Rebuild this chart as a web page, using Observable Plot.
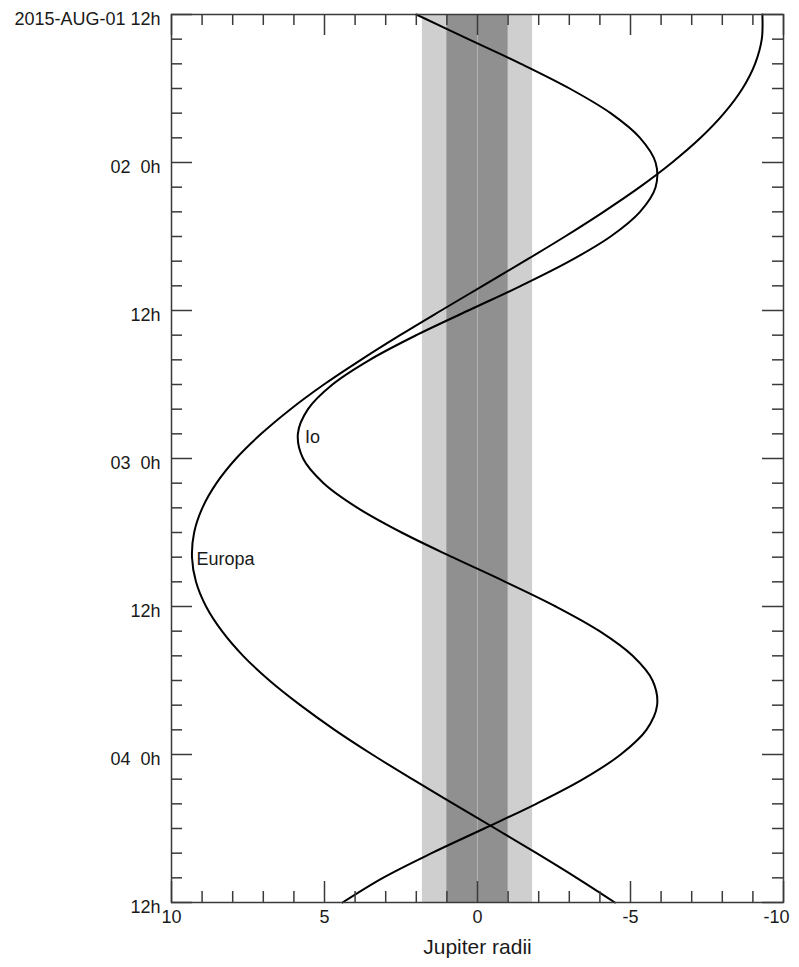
<!DOCTYPE html>
<html><head><meta charset="utf-8">
<script src="https://cdn.jsdelivr.net/npm/d3@7"></script>
<script src="https://cdn.jsdelivr.net/npm/@observablehq/plot@0.6"></script>
<style>
body{margin:0;background:#fff;}
svg text{white-space:pre;}
</style></head><body><div id="chart"></div>
<script>
// hours after 2015-AUG-01 12h
const hours = [0,2,4,6,8,10,12,14,16,18,20,22,24,26,28,30,32,34,36,38,40,42,44,46,48,50,52,54,56,58,60,62,64,66,68,70,72];
// position in Jupiter radii (positive = left / east)
const io = [2.00,0.30,-1.42,-3.01,-4.35,-5.31,-5.82,-5.82,-5.31,-4.35,-3.01,-1.42,0.30,2.00,3.52,4.74,5.54,5.87,5.70,5.03,3.92,2.48,0.82,-0.91,-2.56,-3.99,-5.07,-5.72,-5.87,-5.52,-4.68,-3.45,-1.92,-0.22,1.50,3.09,4.41];
const europa = [-9.31,-9.29,-9.07,-8.66,-8.06,-7.29,-6.36,-5.30,-4.12,-2.86,-1.53,-0.17,1.19,2.53,3.81,5.02,6.11,7.07,7.89,8.53,8.99,9.26,9.33,9.20,8.87,8.35,7.66,6.80,5.79,4.67,3.44,2.13,0.78,-0.58,-1.93,-3.24,-4.49];

const yTickHours = [0,12,24,36,48,60,72];
const yTickLabels = ["2015-AUG-01 12h","02  0h","12h","03  0h","12h","04  0h","12h"];
const yMinorHours = [2,4,6,8,10,14,16,18,20,22,26,28,30,32,34,38,40,42,44,46,50,52,54,56,58,62,64,66,68,70];
const xTickValues = [10,5,0,-5];
const xTickLabels = ["10","5","0","-5"];
const xEndValue = [-10];
const xEndLabel = ["-10"];
const xMinorValues = [9,8,7,6,4,3,2,1,-1,-2,-3,-4,-6,-7,-8,-9];
const shadowBand = [{x1:-1.8, x2:1.8}];
const diskBand = [{x1:-1, x2:1}];
const moonLabels = [{name:"Io", x:5.64, t:34.3},{name:"Europa", x:9.18, t:44.2}];

const W=799, H=967, mL=171, mR=16, mT=14, mB=65;
const innerW = W-mL-mR, innerH = H-mT-mB;
const series = hours.flatMap((t,i)=>[{moon:"Io",t,x:io[i]},{moon:"Europa",t,x:europa[i]}]);
const axisColor = "#3a3a3a";
const allMajorX = xTickValues.concat(xEndValue);

const chart = Plot.plot({
  width: W, height: H,
  marginLeft: mL, marginRight: mR, marginTop: mT, marginBottom: mB,
  style: {fontFamily: "'Liberation Sans', Arial, Helvetica, sans-serif", background: "#fff", color: "#1a1a1a"},
  x: {domain: [10,-10], axis: null},
  y: {domain: [0,72], reverse: true, axis: null},
  marks: [
    Plot.rectX(shadowBand, {x1:"x1", x2:"x2", fill:"#cfcfcf"}),
    Plot.rectX(diskBand, {x1:"x1", x2:"x2", fill:"#909090"}),
    Plot.ruleX([0], {stroke:"#b2b2b2", strokeWidth:1}),
    Plot.line(series, {x:"x", y:"t", z:"moon", curve:"catmull-rom", stroke:"#000", strokeWidth:2}),
    Plot.tickY(yMinorHours, {y:d=>d, insetRight: innerW-11, stroke:axisColor, strokeWidth:1.5}),
    Plot.tickY(yMinorHours, {y:d=>d, insetLeft: innerW-11, stroke:axisColor, strokeWidth:1.5}),
    Plot.tickY(yTickHours, {y:d=>d, insetRight: innerW-21, stroke:axisColor, strokeWidth:1.5}),
    Plot.tickY(yTickHours, {y:d=>d, insetLeft: innerW-21, stroke:axisColor, strokeWidth:1.5}),
    Plot.tickX(xMinorValues, {x:d=>d, insetBottom: innerH-11, stroke:axisColor, strokeWidth:1.5}),
    Plot.tickX(xMinorValues, {x:d=>d, insetTop: innerH-11, stroke:axisColor, strokeWidth:1.5}),
    Plot.tickX(allMajorX, {x:d=>d, insetBottom: innerH-21, stroke:axisColor, strokeWidth:1.5}),
    Plot.tickX(allMajorX, {x:d=>d, insetTop: innerH-21, stroke:axisColor, strokeWidth:1.5}),
    Plot.frame({stroke:axisColor, strokeWidth:1.5}),
    Plot.text(yTickHours, {y:d=>d, text:(d,i)=>yTickLabels[i], frameAnchor:"left", textAnchor:"end", dx:-11, dy:5, fontSize:18, fill:"#1a1a1a"}),
    Plot.text(xTickValues, {x:d=>d, text:(d,i)=>xTickLabels[i], frameAnchor:"bottom", dy:20, fontSize:18, fill:"#1a1a1a"}),
    Plot.text(xEndValue, {x:d=>d, text:(d,i)=>xEndLabel[i], frameAnchor:"bottom", dy:20, dx:-7, fontSize:18, fill:"#1a1a1a"}),
    Plot.text(["Jupiter radii"], {frameAnchor:"bottom", dy:51, fontSize:21, fill:"#1a1a1a"}),
    Plot.text(moonLabels, {x:"x", y:"t", text:"name", textAnchor:"start", fontSize:18, fill:"#1a1a1a"})
  ]
});
document.getElementById("chart").appendChild(chart);
</script>
</body></html>
